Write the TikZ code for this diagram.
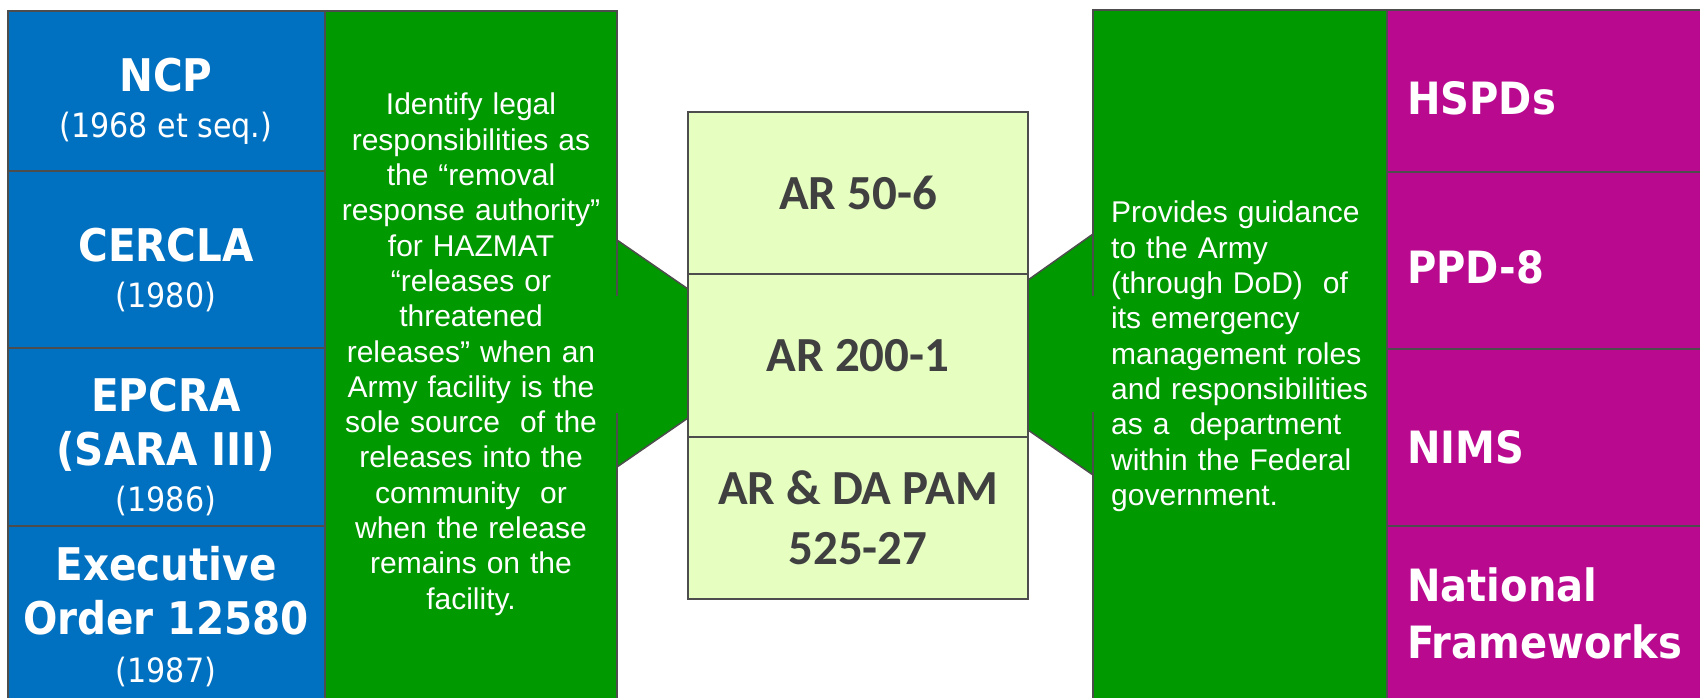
\documentclass[tikz,border=0pt]{standalone}
\usepackage{fontspec}
\newfontfamily\titlef{DejaVu Sans Condensed Bold}
\newfontfamily\subf{DejaVu Sans Condensed}
\newfontfamily\bodyf{Liberation Sans}
\newfontfamily\arf{Carlito}
\usetikzlibrary{positioning}

\definecolor{lawblue}{HTML}{0070C0}
\definecolor{rolegreen}{HTML}{009900}
\definecolor{policymag}{HTML}{B8098F}
\definecolor{regfill}{HTML}{E6FFC1}
\definecolor{regtext}{HTML}{404040}
\definecolor{edgegray}{HTML}{4D4D4D}

\newcommand{\lawyear}[1]{{\subf\fontsize{33.5}{38}\selectfont #1}}

\begin{document}
\begin{tikzpicture}[x=1pt, y=-1pt,
  edge/.style={draw=edgegray, line width=2pt},
  lawcell/.style={edge, fill=lawblue},
  policycell/.style={edge, fill=policymag},
  regbox/.style={edge, fill=regfill, text=regtext, align=center,
    minimum width=340pt, minimum height=162.3pt, inner sep=0pt, outer sep=0pt,
    font=\arf\bfseries\fontsize{49}{60}\selectfont},
  lawtext/.style={text=white, align=center, inner sep=0pt,
    font=\titlef\fontsize{45}{54}\selectfont},
  policytext/.style={text=white, align=left, inner sep=0pt,
    font=\titlef\fontsize{44.5}{57}\selectfont},
  roletext/.style={text=white, inner sep=0pt,
    font=\bodyf\fontsize{30}{35.3}\selectfont}]
\useasboundingbox (0,0) rectangle (1700,698);
\clip (0,0) rectangle (1700,698);

% green columns
\fill[rolegreen] (325,11) rectangle (617,712);
\fill[rolegreen] (1093,10) rectangle (1387,712);

% funnels into the middle stack
\fill[rolegreen] (617,240) -- (688,289) -- (688,418) -- (617,467) -- cycle;
\fill[rolegreen] (1093,234) -- (1028,280) -- (1028,430) -- (1093,475) -- cycle;
\draw[edge, line width=1.5pt] (617,240) -- (688,289) (688,418) -- (617,467);
\draw[edge, line width=1.5pt] (1093,234) -- (1028,280) (1028,430) -- (1093,475);

\draw[edge] (325,11) -- (617,11) -- (617,296) (617,413) -- (617,712);
\draw[edge] (1093,712) -- (1093,412) (1093,296) -- (1093,10) -- (1387,10);

% statutes
\foreach \a/\b in {11/171, 171/348, 348/526, 526/712}
  \draw[lawcell] (8,\a) rectangle (325,\b);

% national policy
\foreach \a/\b in {10/172, 172/349, 349/526, 526/712}
  \draw[policycell] (1387,\a) rectangle (1712,\b);

% army regulations
\node[regbox] (ar506) at (858,193.2) {AR 50-6};
\node[regbox, below=0pt of ar506] (ar2001) {AR 200-1};
\node[regbox, below=0pt of ar2001] (pam) {AR \& DA PAM\\525-27};

\node[lawtext] (ncp) at (166,101) {NCP\\[-8pt]\lawyear{(1968 et seq.)}};
\node[lawtext] (cercla) at (166,270) {CERCLA\\[-8pt]\lawyear{(1980)}};
\node[lawtext] (epcra) at (166,447) {EPCRA\\(SARA III)\\[-8pt]\lawyear{(1986)}};
\node[lawtext] (eo) at (166,617) {Executive\\Order 12580\\[-6pt]\lawyear{(1987)}};

\node[roletext, text width=290pt, align=center, anchor=north] (legal) at (471,93)
  {Identify legal\\responsibilities as\\the “removal\\response authority”\\for HAZMAT\\“releases or\\threatened\\releases” when an\\Army facility is the\\sole source~ of the\\releases into the\\community~ or\\when the release\\remains on the\\facility.};
\node[roletext, text width=285pt, align=left, anchor=north west] (guide) at (1111,201)
  {Provides guidance\\to the Army\\(through DoD)~ of\\its emergency\\management roles\\and responsibilities\\as a~ department\\within the Federal\\government.};

\node[policytext, anchor=base west] (hspd) at (1407,115) {HSPDs};
\node[policytext, anchor=base west] (ppd) at (1407,283) {PPD-8};
\node[policytext, anchor=base west] (nims) at (1407,463) {NIMS};
\node[policytext, anchor=north west] (natfw) at (1407,567) {National\\Frameworks};
\end{tikzpicture}
\end{document}
